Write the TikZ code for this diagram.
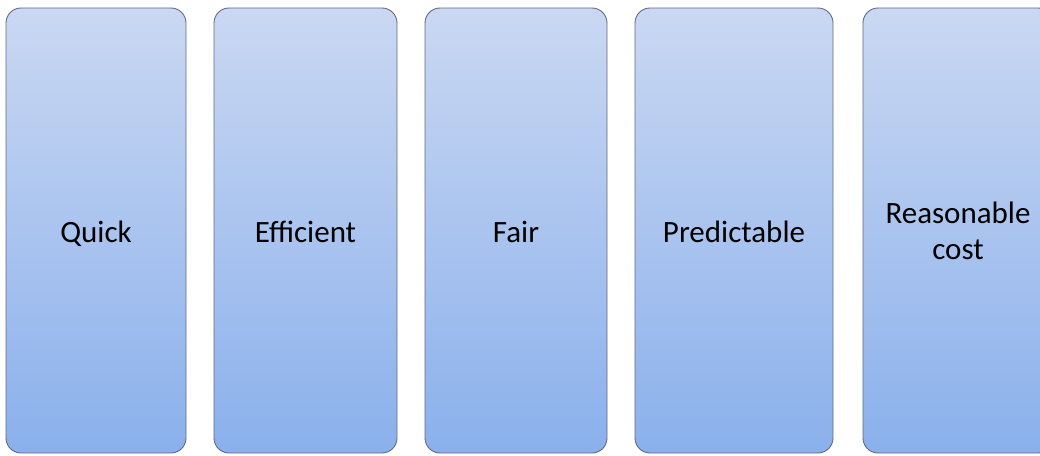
\documentclass[tikz,border=0pt]{standalone}
\usepackage{fontspec}
\setmainfont{Carlito}
\definecolor{boxtop}{RGB}{202,216,242}
\definecolor{boxbot}{RGB}{138,176,236}
\definecolor{boxline}{RGB}{98,106,130}
\begin{document}
\begin{tikzpicture}[x=1pt,y=-1pt,
  card/.style={draw=boxline, line width=0.9pt, rounded corners=15pt,
    top color=boxtop, bottom color=boxbot, minimum height=445pt,
    inner sep=0pt, align=center, text=black,
    font=\fontsize{31}{36}\selectfont},
  oneline/.style={text height=24pt, text depth=0pt}]
\useasboundingbox (0,0) rectangle (1040,455);
\node[card, oneline, minimum width=180pt] (q) at (96,230.5) {Quick};
\node[card, oneline, minimum width=183pt] (e) at (305.5,230.5) {Efficient};
\node[card, oneline, minimum width=182pt] (f) at (516,230.5) {Fair};
\node[card, oneline, minimum width=198pt] (p) at (734,230.5) {Predictable};
\node[card, minimum width=190pt] (r) at (958,230.5) {Reasonable\\cost};
\end{tikzpicture}
\end{document}
